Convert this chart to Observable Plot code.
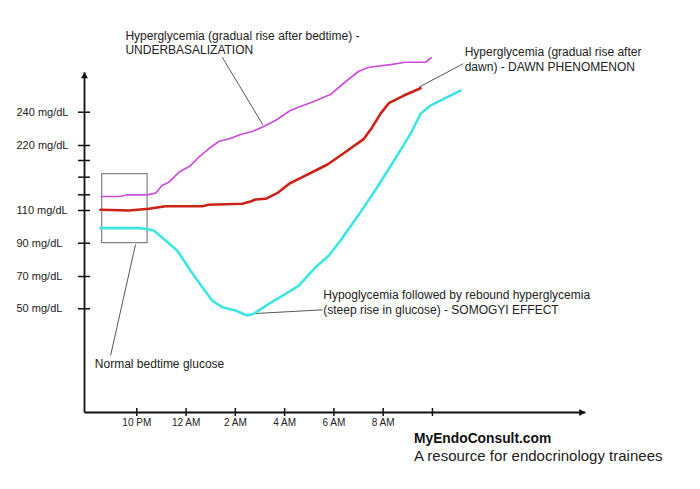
<!DOCTYPE html>
<html>
<head>
<meta charset="utf-8">
<script src="https://cdn.jsdelivr.net/npm/d3@7"></script>
<script src="https://cdn.jsdelivr.net/npm/@observablehq/plot@0.6"></script>
<style>
  body { margin: 0; background: white; }
  #wrap { width: 700px; font-family: "Liberation Sans", Arial, sans-serif; }
  #caption { margin-left: 414px; color: #111; }
  #caption .t1 { font-weight: bold; font-size: 13.8px; line-height: 17px; }
  #caption .t2 { font-size: 15px; line-height: 17px; color: #222; }
</style>
</head>
<body>
<div id="wrap"></div>
<script>
// ---- data (x: hours after 8 PM, y: glucose mg/dL) ----
const tickHours = [2, 4, 6, 8, 10, 12, 14];
const tickHourLabels = ["10 PM", "12 AM", "2 AM", "4 AM", "6 AM", "8 AM", ""];
const yTickValues = [50, 70, 90, 110, 137.5, 165, 192.5, 220, 240];
const yTickLabels = ["50 mg/dL", "70 mg/dL", "90 mg/dL", "110 mg/dL", "", "", "", "220 mg/dL", "240 mg/dL"];

const underHours = [0.69,1.46,1.73,2.54,2.88,3.15,3.42,3.83,4.30,4.64,5.04,5.45,5.99,6.33,6.81,7.21,7.75,8.32,8.70,9.25,9.98,10.59,11.13,11.54,12.42,13.03,13.84,14.07];
const underMg    = [134.5,134.5,137.5,137.5,140,152,157,173,184,198.5,214,222.4,224.6,226.6,228.4,231,235,240.7,243.1,246.1,250.6,258.3,264.6,267,268.6,270,270,272.7];

const dawnHours = [0.65,1.80,2.61,3.29,4.78,5.04,6.40,6.74,6.94,7.35,7.82,8.32,8.84,9.38,9.86,10.55,11.34,11.68,12.01,12.35,12.96,13.64];
const dawnMg    = [111.2,110,113,117.5,117.5,120,121.7,125.8,129.3,130.5,140,155.2,165,176,185.9,206.8,224,231,239,245.4,250,254.4];

const somogyiHours = [0.65,2.20,2.48,2.81,3.29,3.76,4.30,4.78,5.18,5.59,6.13,6.60,6.87,7.48,8.16,8.70,9.38,9.92,10.39,11.20,11.88,12.69,13.23,13.64,14.04,14.58,15.26];
const somogyiMg    = [99.2,99.2,98.8,97.8,91.7,85.6,73.6,63.4,55.1,51,49.2,46.8,47.6,53.1,59.3,64.4,75.6,82.6,91.7,109,149.4,201.7,227,239,244,248,253];

const noteX = [1.66, 15.43, 9.69, 0.42];
const noteY = [281.7, 272, 54.3, 23.5];
const noteText = [
  "Hyperglycemia (gradual rise after bedtime) -\nUNDERBASALIZATION",
  "Hyperglycemia (gradual rise after\ndawn) - DAWN PHENOMENON",
  "Hypoglycemia followed by rebound hyperglycemia\n(steep rise in glucose) - SOMOGYI EFFECT",
  "Normal bedtime glucose"
];
const leaderX1 = [5.59, 15.37, 9.66, 2.07];
const leaderY1 = [273, 269.1, 49.5, 89.2];
const leaderX2 = [7.24, 13.57, 6.74, 1.06];
const leaderY2 = [232.4, 255, 47.6, 27.5];

const boxHours = [0.72, 2.56];
const boxMg = [90, 169.9];

const axisEndHour = 20.33;
const axisTopMg = 264;

// ---- tables ----
const toRows = (hs, ms) => hs.map((h, i) => ({h, mg: ms[i]}));
const under = toRows(underHours, underMg);
const dawn = toRows(dawnHours, dawnMg);
const somogyi = toRows(somogyiHours, somogyiMg);
const notes = noteText.map((t, i) => ({x: noteX[i], y: noteY[i], text: t}));
const leaders = leaderX1.map((x, i) => ({x1: x, y1: leaderY1[i], x2: leaderX2[i], y2: leaderY2[i]}));
const yTicks = yTickValues.map((v, i) => ({v, label: yTickLabels[i]}));
const axes = [
  {x1: 0, y1: 0, x2: 0, y2: axisTopMg},
  {x1: 0, y1: 0, x2: axisEndHour, y2: 0}
];
const heads = [
  {x: 0, y: axisTopMg - 2.4, rot: 0},
  {x: axisEndHour - 0.17, y: 0, rot: 90}
];

const chart = Plot.plot({
  width: 700,
  height: 430,
  marginLeft: 90,
  marginBottom: 22,
  marginTop: 0,
  marginRight: 0,
  style: {fontFamily: "'Liberation Sans', Arial, sans-serif", color: "#222", background: "white"},
  x: {type: "linear", domain: [0, 20], range: [84, 576.8]},
  y: {type: "linear",
      domain: [0, 50, 70, 90, 110, 137.5, 165, 192.5, 220, 240],
      range: [412, 308.3, 276, 242.7, 210, 194.3, 176.7, 160, 145, 111.7]},
  marks: [
    Plot.link(axes, {x1: "x1", y1: "y1", x2: "x2", y2: "y2", stroke: "#111", strokeWidth: 1.8}),
    Plot.dot(heads, {x: "x", y: "y", symbol: "triangle", r: 2.6, fill: "#111", stroke: "none", rotate: "rot"}),
    Plot.axisY({ticks: yTickValues, tickSize: 12, tickFormat: () => "", label: null, strokeWidth: 1.5, stroke: "#111"}),
    Plot.text(yTicks, {y: "v", text: "label", frameAnchor: "left", dx: -74, textAnchor: "start", fontSize: 11, fill: "#222"}),
    Plot.axisX({ticks: tickHours, tickSize: 8, tickPadding: 2, dx: 3, fontSize: 10, label: null,
                tickFormat: (d) => tickHourLabels[tickHours.indexOf(d)], strokeWidth: 1.5, stroke: "#111", fill: "#222"}),
    Plot.rect([{}], {x1: boxHours[0], x2: boxHours[1], y1: boxMg[0], y2: boxMg[1], fill: "none", stroke: "#666", strokeWidth: 1}),
    Plot.link(leaders, {x1: "x1", y1: "y1", x2: "x2", y2: "y2", stroke: "#444", strokeWidth: 0.9}),
    Plot.line(under, {x: "h", y: "mg", stroke: "#cc4fdc", strokeWidth: 1.7, strokeLinejoin: "round", strokeLinecap: "round"}),
    Plot.line(dawn, {x: "h", y: "mg", stroke: "#cc2218", strokeWidth: 2.6, strokeLinejoin: "round", strokeLinecap: "round"}),
    Plot.line(somogyi, {x: "h", y: "mg", stroke: "#3fe5e5", strokeWidth: 2.6, strokeLinejoin: "round", strokeLinecap: "round"}),
    Plot.text(notes, {x: "x", y: "y", text: "text", textAnchor: "start", fontSize: 12, lineHeight: 1.19, fill: "#222"})
  ]
});

const wrap = document.getElementById("wrap");
wrap.appendChild(chart);
const cap = document.createElement("div");
cap.id = "caption";
cap.innerHTML = '<div class="t1">MyEndoConsult.com</div><div class="t2">A resource for endocrinology trainees</div>';
wrap.appendChild(cap);
</script>
</body>
</html>
